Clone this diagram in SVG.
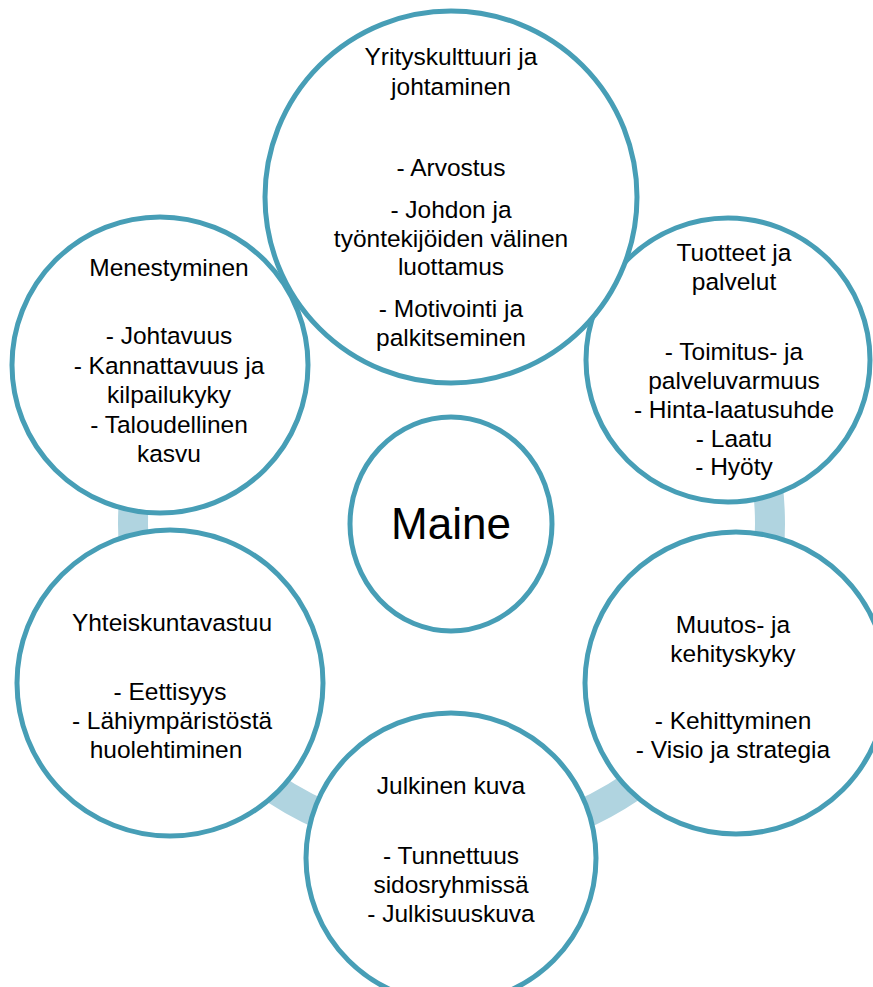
<svg xmlns="http://www.w3.org/2000/svg" width="873" height="987" viewBox="0 0 873 987">
<style>
.node{fill:#ffffff;stroke:#479EB6;stroke-width:5}
.t{font-family:"Liberation Sans",Arial,sans-serif;font-size:24.5px;fill:#000;text-anchor:middle}
.big{font-family:"Liberation Sans",Arial,sans-serif;font-size:44px;fill:#000;text-anchor:middle}
</style>
<rect width="873" height="987" fill="#ffffff"/>
<g id="connectors">
<path d="M 676.7 298.8 A 318.5 318.5 0 1 1 226.3 298.8" fill="none" stroke="#B0D4E0" stroke-width="30"/>
</g>
<g id="node-menestyminen">
<circle class="node" cx="160" cy="365" r="148"/>
<text class="t" x="169" y="276">Menestyminen</text>
<text class="t" x="169" y="344">- Johtavuus</text>
<text class="t" x="169" y="374">- Kannattavuus ja</text>
<text class="t" x="169" y="403">kilpailukyky</text>
<text class="t" x="169" y="433">- Taloudellinen</text>
<text class="t" x="169" y="462">kasvu</text>
</g>
<g id="node-tuotteet">
<circle class="node" cx="728" cy="360" r="142"/>
<text class="t" x="734" y="261">Tuotteet ja</text>
<text class="t" x="734" y="290">palvelut</text>
<text class="t" x="734" y="360">- Toimitus- ja</text>
<text class="t" x="734" y="389">palveluvarmuus</text>
<text class="t" x="734" y="418">- Hinta-laatusuhde</text>
<text class="t" x="734" y="447">- Laatu</text>
<text class="t" x="734" y="475">- Hyöty</text>
</g>
<g id="node-yritys">
<circle class="node" cx="451" cy="197" r="186"/>
<text class="t" x="451" y="65">Yrityskulttuuri ja</text>
<text class="t" x="451" y="95">johtaminen</text>
<text class="t" x="451" y="176">- Arvostus</text>
<text class="t" x="451" y="218">- Johdon ja</text>
<text class="t" x="451" y="247">työntekijöiden välinen</text>
<text class="t" x="451" y="275">luottamus</text>
<text class="t" x="451" y="317">- Motivointi ja</text>
<text class="t" x="451" y="346">palkitseminen</text>
</g>
<g id="node-yhteiskunta">
<circle class="node" cx="170" cy="683" r="153"/>
<text class="t" x="172" y="631">Yhteiskuntavastuu</text>
<text class="t" x="170" y="700">- Eettisyys</text>
<text class="t" x="172" y="729">- Lähiympäristöstä</text>
<text class="t" x="166" y="758">huolehtiminen</text>
</g>
<g id="node-muutos">
<circle class="node" cx="736" cy="683" r="151"/>
<text class="t" x="733" y="633">Muutos- ja</text>
<text class="t" x="733" y="662">kehityskyky</text>
<text class="t" x="733" y="729">- Kehittyminen</text>
<text class="t" x="733" y="758">- Visio ja strategia</text>
</g>
<g id="node-julkinen">
<circle class="node" cx="451" cy="858" r="145"/>
<text class="t" x="451" y="794">Julkinen kuva</text>
<text class="t" x="451" y="864">- Tunnettuus</text>
<text class="t" x="451" y="893">sidosryhmissä</text>
<text class="t" x="451" y="922">- Julkisuuskuva</text>
</g>
<g id="node-maine">
<ellipse class="node" cx="451" cy="524" rx="101" ry="107"/>
<text class="big" x="451" y="539">Maine</text>
</g>
</svg>
